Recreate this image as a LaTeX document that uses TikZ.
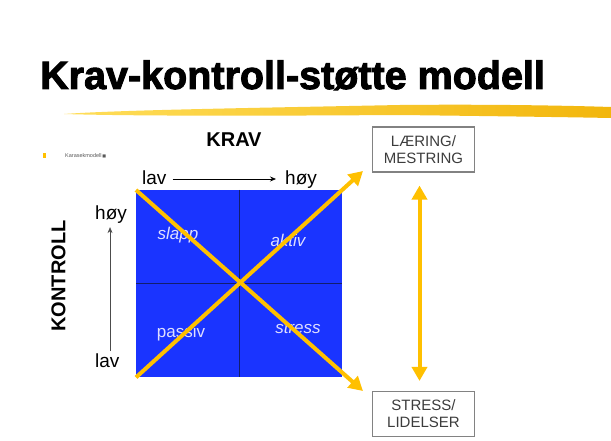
\documentclass[tikz,border=0pt]{standalone}
\usepackage{fontspec}
\setmainfont{Liberation Sans}
\newfontfamily\titlefont{Liberation Sans}[BoldFeatures={FakeBold=2.4}]
\newfontfamily\symfont{DejaVu Sans}
\usetikzlibrary{arrows.meta,calc}

\definecolor{quadblue}{RGB}{26,52,255}
\definecolor{gridnavy}{RGB}{18,30,110}
\definecolor{gold}{RGB}{255,192,0}
\definecolor{brushlight}{RGB}{255,222,90}
\definecolor{brushdark}{RGB}{242,182,12}
\definecolor{quadtext}{RGB}{222,222,255}
\definecolor{boxline}{RGB}{130,130,130}
\definecolor{boxtext}{RGB}{60,60,60}

\tikzset{
  fsz/.style={font=\fontsize{#1}{#1}\selectfont},
  outcome/.style={draw=boxline, line width=1.1pt, minimum width=102pt,
    minimum height=45pt, align=center, inner sep=0pt, text=boxtext,
    font=\fontsize{15}{17}\selectfont},
  quadlabel/.style={text=quadtext, font=\fontsize{17}{17}\selectfont\itshape},
  axislabel/.style={inner sep=0pt, font=\fontsize{19}{19}\selectfont},
  goldarrow/.style={draw=gold, line width=4pt,
    -{Triangle[length=14pt,width=15pt]}},
  goldboth/.style={draw=gold, line width=4pt,
    {Triangle[length=14pt,width=15pt]}-{Triangle[length=14pt,width=15pt]}},
  thinarrow/.style={line width=0.7pt, -{Stealth[length=6pt,width=5pt]}},
}

\begin{document}
\begin{tikzpicture}[x=1pt,y=-1pt]
  \useasboundingbox[fill=white] (0,0) rectangle (611,441);

  % title and brush stroke underline
  \node[anchor=base west, inner sep=0pt, font=\titlefont\bfseries\fontsize{39.5}{40}\selectfont]
    (title) at (40,89) {Krav-kontroll-støtte modell};
  \shade[left color=brushlight, right color=brushdark]
    (64,114) .. controls (120,110) and (250,108) .. (400,105)
    .. controls (500,104) and (580,106) .. (611,107)
    -- (611,118) .. controls (560,117) and (480,116) .. (400,115)
    .. controls (250,116) and (130,116) .. (64,114) -- cycle;

  % small bullet line
  \fill[gold] (43,153) rectangle (45.5,158);
  \node[anchor=base west, inner sep=0pt, text=black!65, fsz=5.5] (kar) at (65,157.5)
    {Karasekmodell\,{\symfont\fontsize{4}{4}\selectfont■}};

  % axis titles
  \node[fsz=20, inner sep=0pt] (krav) at (234,139.5) {\bfseries KRAV};
  \node[fsz=20, inner sep=0pt, rotate=90] (kontroll) at (58.5,276) {\bfseries KONTROLL};

  % quadrant square
  \node[fill=quadblue, minimum width=206pt, minimum height=187pt,
    inner sep=0pt, anchor=north west] (sq) at (136,190) {};
  \draw[gridnavy, line width=0.9pt] (sq.north) -- (sq.south);
  \draw[gridnavy, line width=0.9pt] (sq.west) -- (sq.east);

  \node[quadlabel] (slapp) at (178,235) {slapp};
  \node[quadlabel] (aktiv) at (288,240) {aktiv};
  \node[quadlabel, font=\fontsize{17}{17}\selectfont] (passiv) at (181,333) {passiv};
  \node[quadlabel] (stress) at (298,328) {stress};

  % scale labels along the axes
  \node[axislabel, anchor=base west] (lavT) at (142,185) {lav};
  \node[axislabel, anchor=base west] (hoyT) at (285,185) {høy};
  \draw[thinarrow] (lavT.east |- 0,179) ++(6,0) coordinate (kstart)
    (kstart) -- ($(hoyT.west |- kstart)+(-9,0)$) coordinate (kend);

  \node[axislabel, anchor=base west] (hoyL) at (95,220) {høy};
  \node[axislabel, anchor=base west] (lavL) at (95,367) {lav};
  \draw[thinarrow, black!70] ($(hoyL.south |- lavL.north)+(-1,-2)$) coordinate (vstart)
    -- ($(hoyL.south)+(-1,3)$) coordinate (vend);

  % outcome boxes
  \node[outcome] (laering) at (423.5,149.5) {LÆRING/\\MESTRING};
  \node[outcome] (lidelse) at (423.5,414) {STRESS/\\LIDELSER};

  % diagonals through the square
  \coordinate (tipUp) at (363,171);
  \coordinate (tipDown) at (363,391);
  \draw[goldarrow] (sq.south west) -- (tipUp);
  \draw[goldarrow] (sq.north west) -- (tipDown);

  % two-way arrow between the outcomes
  \draw[goldboth, shorten <=13pt, shorten >=10pt]
    ($(laering.south)+(-4,0)$) -- ($(lidelse.north)+(-4,0)$);
\end{tikzpicture}
\end{document}
